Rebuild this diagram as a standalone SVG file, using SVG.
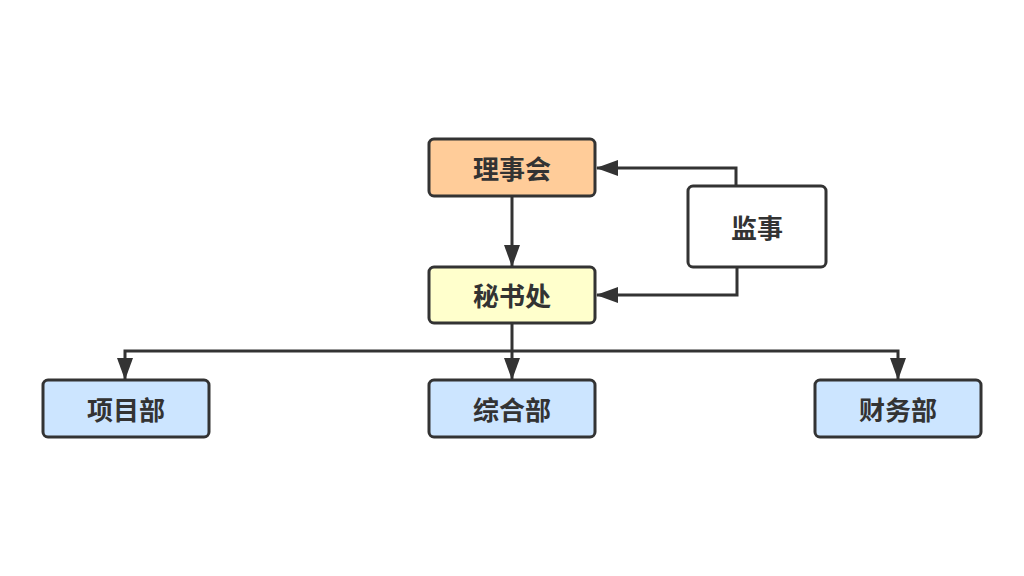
<svg xmlns="http://www.w3.org/2000/svg" width="1024" height="576" viewBox="0 0 1024 576">
<defs>
<style>
.box{stroke:#333;stroke-width:3}
.lbl{font-family:"Noto Sans CJK SC","Noto Sans",sans-serif;font-weight:bold;font-size:26px;fill:#333;text-anchor:middle;dominant-baseline:central}
.conn{fill:none;stroke:#333;stroke-width:3}
</style>
<marker id="arr" viewBox="0 0 22 16" refX="21" refY="8" markerWidth="22" markerHeight="16" markerUnits="userSpaceOnUse" orient="auto">
<path d="M0,0 L22,8 L0,16 Z" fill="#333"/>
</marker>
</defs>
<rect width="1024" height="576" fill="#fff"/>
<g id="connectors">
<path class="conn" d="M512,196 V266" marker-end="url(#arr)"/>
<path class="conn" d="M736,186 V168 H597" marker-end="url(#arr)"/>
<path class="conn" d="M737,267 V295 H597" marker-end="url(#arr)"/>
<path class="conn" d="M512,323 V379" marker-end="url(#arr)"/>
<path class="conn" d="M512,351 H125 V379" marker-end="url(#arr)"/>
<path class="conn" d="M512,351 H898 V379" marker-end="url(#arr)"/>
</g>
<g id="node-lishihui">
<rect class="box" x="429" y="139" width="166" height="57" rx="5" fill="#FFCC99"/>
<text class="lbl" x="512" y="167">理事会</text>
</g>
<g id="node-mishuchu">
<rect class="box" x="429" y="267" width="166" height="56" rx="5" fill="#FFFFCC"/>
<text class="lbl" x="512" y="294">秘书处</text>
</g>
<g id="node-jianshi">
<rect class="box" x="688" y="186" width="138" height="81" rx="5" fill="#FFFFFF"/>
<text class="lbl" x="757" y="226">监事</text>
</g>
<g id="node-xiangmubu">
<rect class="box" x="43" y="380" width="166" height="57" rx="5" fill="#CCE5FF"/>
<text class="lbl" x="126" y="408">项目部</text>
</g>
<g id="node-zonghebu">
<rect class="box" x="429" y="380" width="166" height="57" rx="5" fill="#CCE5FF"/>
<text class="lbl" x="512" y="408">综合部</text>
</g>
<g id="node-caiwubu">
<rect class="box" x="815" y="380" width="166" height="57" rx="5" fill="#CCE5FF"/>
<text class="lbl" x="898" y="408">财务部</text>
</g>
</svg>
